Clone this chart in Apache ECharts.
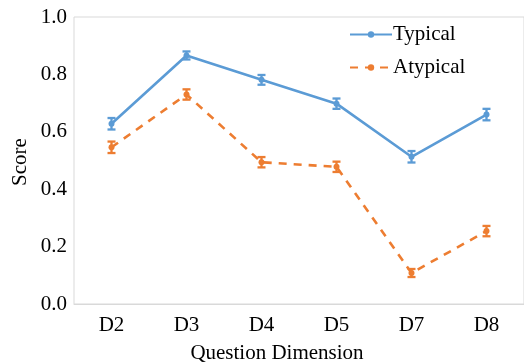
<!DOCTYPE html>
<html><head><meta charset="utf-8">
<script src="https://cdn.jsdelivr.net/npm/echarts@6/dist/echarts.min.js"></script>
<style>html,body{margin:0;padding:0;background:#fff}#c{width:524px;height:364px}</style>
</head><body><div id="c"></div>
<script>
var categories = ['D2','D3','D4','D5','D7','D8'];
var typical = [0.628, 0.866, 0.781, 0.698, 0.513, 0.660];
var typicalErr = [0.020, 0.014, 0.017, 0.018, 0.020, 0.020];
var atypical = [0.546, 0.730, 0.494, 0.478, 0.108, 0.254];
var atypicalErr = [0.020, 0.018, 0.018, 0.018, 0.014, 0.018];
var yTicks = [0, 0.2, 0.4, 0.6, 0.8, 1.0];

var FONT = '"Liberation Serif", "Times New Roman", serif';
var BLUE = '#5B9BD5', ORANGE = '#ED7D31';
var FS = 21;

function errSeries(vals, errs, color) {
  return {
    type: 'custom',
    silent: true,
    z: 5,
    data: vals.map(function (v, i) { return [i, v - errs[i], v + errs[i]]; }),
    renderItem: function (params, api) {
      var lo = api.coord([api.value(0), api.value(1)]);
      var hi = api.coord([api.value(0), api.value(2)]);
      var w = 4;
      var st = { stroke: color, lineWidth: 2.3 };
      return { type: 'group', children: [
        { type: 'line', shape: { x1: lo[0], y1: lo[1], x2: hi[0], y2: hi[1] }, style: st },
        { type: 'line', shape: { x1: lo[0]-w, y1: lo[1], x2: lo[0]+w, y2: lo[1] }, style: st },
        { type: 'line', shape: { x1: hi[0]-w, y1: hi[1], x2: hi[0]+w, y2: hi[1] }, style: st }
      ]};
    }
  };
}

var chart = echarts.init(document.getElementById('c'), null, { renderer: 'canvas' });
chart.setOption({
  animation: false,
  grid: { left: 74, top: 17, width: 453, height: 287, show: true, borderColor: '#d9d9d9', borderWidth: 1, containLabel: false },
  legend: {
    orient: 'vertical', left: 344, top: 19, itemWidth: 42, itemHeight: 8, itemGap: 12,
    textStyle: { fontFamily: FONT, fontSize: FS, color: '#000', padding: [0,0,0,-4] },
    data: ['Typical', 'Atypical']
  },
  xAxis: {
    type: 'category', data: categories, boundaryGap: true,
    axisLine: { show: true, lineStyle: { color: '#d9d9d9', width: 1 } },
    axisTick: { show: false },
    axisLabel: { fontFamily: FONT, fontSize: FS, color: '#000', margin: 11 },
    splitLine: { show: false }
  },
  yAxis: {
    type: 'value', min: 0, max: 1, interval: 0.2,
    axisLine: { show: false }, axisTick: { show: false }, splitLine: { show: false },
    axisLabel: { fontFamily: FONT, fontSize: FS, color: '#000', margin: 7,
      formatter: function (v) { return v.toFixed(1); } }
  },
  graphic: [
    { type: 'text', x: 277, y: 353, style: { text: 'Question Dimension', fontFamily: FONT, fontSize: FS, fill: '#000', align: 'center', verticalAlign: 'middle' } },
    { type: 'text', x: 20, y: 162, rotation: Math.PI/2, style: { text: 'Score', fontFamily: FONT, fontSize: FS, fill: '#000', align: 'center', verticalAlign: 'middle' } }
  ],
  series: [
    { name: 'Typical', type: 'line', data: typical, symbol: 'circle', symbolSize: 6,
      itemStyle: { color: BLUE }, lineStyle: { color: BLUE, width: 2.6 }, z: 4 },
    { name: 'Atypical', type: 'line', data: atypical, symbol: 'circle', symbolSize: 6,
      itemStyle: { color: ORANGE }, lineStyle: { color: ORANGE, width: 2.6, type: [8, 7] }, z: 4 },
    errSeries(typical, typicalErr, BLUE),
    errSeries(atypical, atypicalErr, ORANGE)
  ]
});
</script></body></html>
